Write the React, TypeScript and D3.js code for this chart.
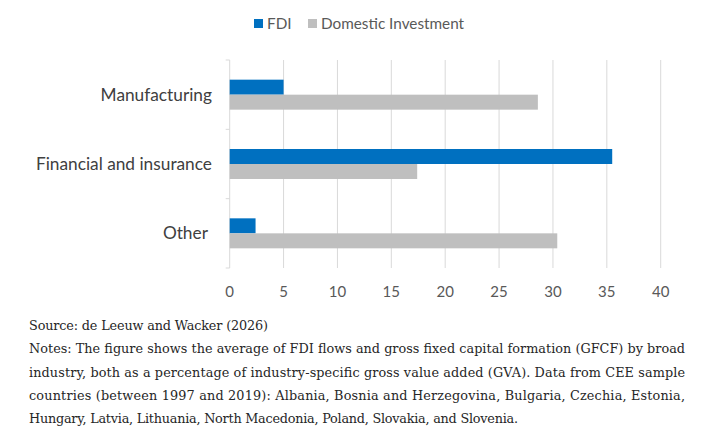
import { useEffect, useRef } from "react"
import * as d3 from "d3"

const categories = ["Manufacturing", "Financial and insurance", "Other "]
const seriesNames = ["FDI", "Domestic Investment"]
const fdi = [5.0, 35.5, 2.4]
const domestic = [28.6, 17.4, 30.4]
const xTicks = [0, 5, 10, 15, 20, 25, 30, 35, 40]
const colors = ["#0070c0", "#bfbfbf"]

const sourceLine = "Source: de Leeuw and Wacker (2026)"
const noteLines = [
  "Notes: The figure shows the average of FDI flows and gross fixed capital formation (GFCF) by broad",
  "industry, both as a percentage of industry-specific gross value added (GVA). Data from CEE sample",
  "countries (between 1997 and 2019): Albania, Bosnia and Herzegovina, Bulgaria, Czechia, Estonia,",
  "Hungary, Latvia, Lithuania, North Macedonia, Poland, Slovakia, and Slovenia.",
]
// 각 줄의 폭 (원본 기준)
const noteWidths = [656, 656, 656, 489]

export default function App() {
  const svgRef = useRef<SVGSVGElement>(null)

  useEffect(() => {
    if (!svgRef.current) return
    const svg = d3.select(svgRef.current)
    svg.selectAll("*").remove()

    const left = 229.7
    const right = 660.7
    const top = 60
    const bottom = 268

    const x = d3.scaleLinear().domain([0, 40]).range([left, right])
    const y = d3.scaleBand<string>().domain(categories).range([top, bottom])
    const inner = d3
      .scaleBand<string>()
      .domain(seriesNames)
      .range([y.bandwidth() / 2 - 15, y.bandwidth() / 2 + 15])

    // 그리드
    svg.append("g")
      .selectAll("line")
      .data(xTicks.slice(1))
      .enter()
      .append("line")
      .attr("x1", (d) => x(d))
      .attr("x2", (d) => x(d))
      .attr("y1", top)
      .attr("y2", bottom)
      .attr("stroke", "#d9d9d9")
      .attr("stroke-width", 1)

    // 세로축
    svg.append("line")
      .attr("x1", left)
      .attr("x2", left)
      .attr("y1", top)
      .attr("y2", bottom)
      .attr("stroke", "#d9d9d9")
    const bounds = [...categories.map((c) => y(c) as number), bottom]
    svg.append("g")
      .selectAll("line")
      .data(bounds)
      .enter()
      .append("line")
      .attr("x1", left - 4)
      .attr("x2", left)
      .attr("y1", (d) => d)
      .attr("y2", (d) => d)
      .attr("stroke", "#d9d9d9")

    // 바
    const rows = categories.map((c, i) => ({ c, vals: [fdi[i], domestic[i]] }))
    rows.forEach((r) => {
      r.vals.forEach((v, j) => {
        svg.append("rect")
          .attr("x", x(0))
          .attr("y", (y(r.c) as number) + (inner(seriesNames[j]) as number))
          .attr("width", x(v) - x(0))
          .attr("height", inner.bandwidth())
          .attr("fill", colors[j])
      })
    })

    // 카테고리 레이블
    svg.append("g")
      .selectAll("text")
      .data(categories)
      .enter()
      .append("text")
      .attr("x", 212)
      .attr("y", (d) => (y(d) as number) + y.bandwidth() / 2)
      .attr("dy", "0.35em")
      .attr("text-anchor", "end")
      .style("white-space", "pre")
      .style("font-family", "Lato, 'Open Sans', sans-serif")
      .style("font-size", "17.3px")
      .style("fill", "#404040")
      .text((d) => d)

    // x축 레이블
    svg.append("g")
      .selectAll("text")
      .data(xTicks)
      .enter()
      .append("text")
      .attr("x", (d) => x(d))
      .attr("y", 292)
      .attr("dy", "0.35em")
      .attr("text-anchor", "middle")
      .style("font-family", "Lato, 'Open Sans', sans-serif")
      .style("font-size", "15px")
      .style("fill", "#595959")
      .text((d) => d)

    // 범례
    const legend = svg.append("g")
    const legendX = [254, 308]
    seriesNames.forEach((s, i) => {
      legend.append("rect")
        .attr("x", legendX[i])
        .attr("y", 19)
        .attr("width", 9)
        .attr("height", 9)
        .attr("fill", colors[i])
      legend.append("text")
        .attr("x", legendX[i] + 13)
        .attr("y", 23.5)
        .attr("dy", "0.35em")
        .style("font-family", "Lato, 'Open Sans', sans-serif")
        .style("font-size", "15.3px")
        .style("fill", "#595959")
        .text(s)
    })

    // 출처와 주석
    const noteFont = "'DejaVu Serif', serif"
    svg.append("text")
      .attr("x", 29)
      .attr("y", 330)
      .attr("textLength", 239)
      .attr("lengthAdjust", "spacing")
      .style("font-family", noteFont)
      .style("font-size", "12.8px")
      .style("fill", "#262626")
      .text(sourceLine)
    noteLines.forEach((line, i) => {
      svg.append("text")
        .attr("x", 29)
        .attr("y", 353.3 + i * 23.3)
        .attr("textLength", noteWidths[i])
        .attr("lengthAdjust", "spacing")
        .style("font-family", noteFont)
        .style("font-size", "12.8px")
        .style("fill", "#262626")
        .text(line)
    })
  }, [])

  return (
    <div style={{ position: "absolute", left: 0, top: 0, background: "#fff" }}>
      <svg ref={svgRef} width={710} height={440} style={{ display: "block" }} />
    </div>
  )
}
